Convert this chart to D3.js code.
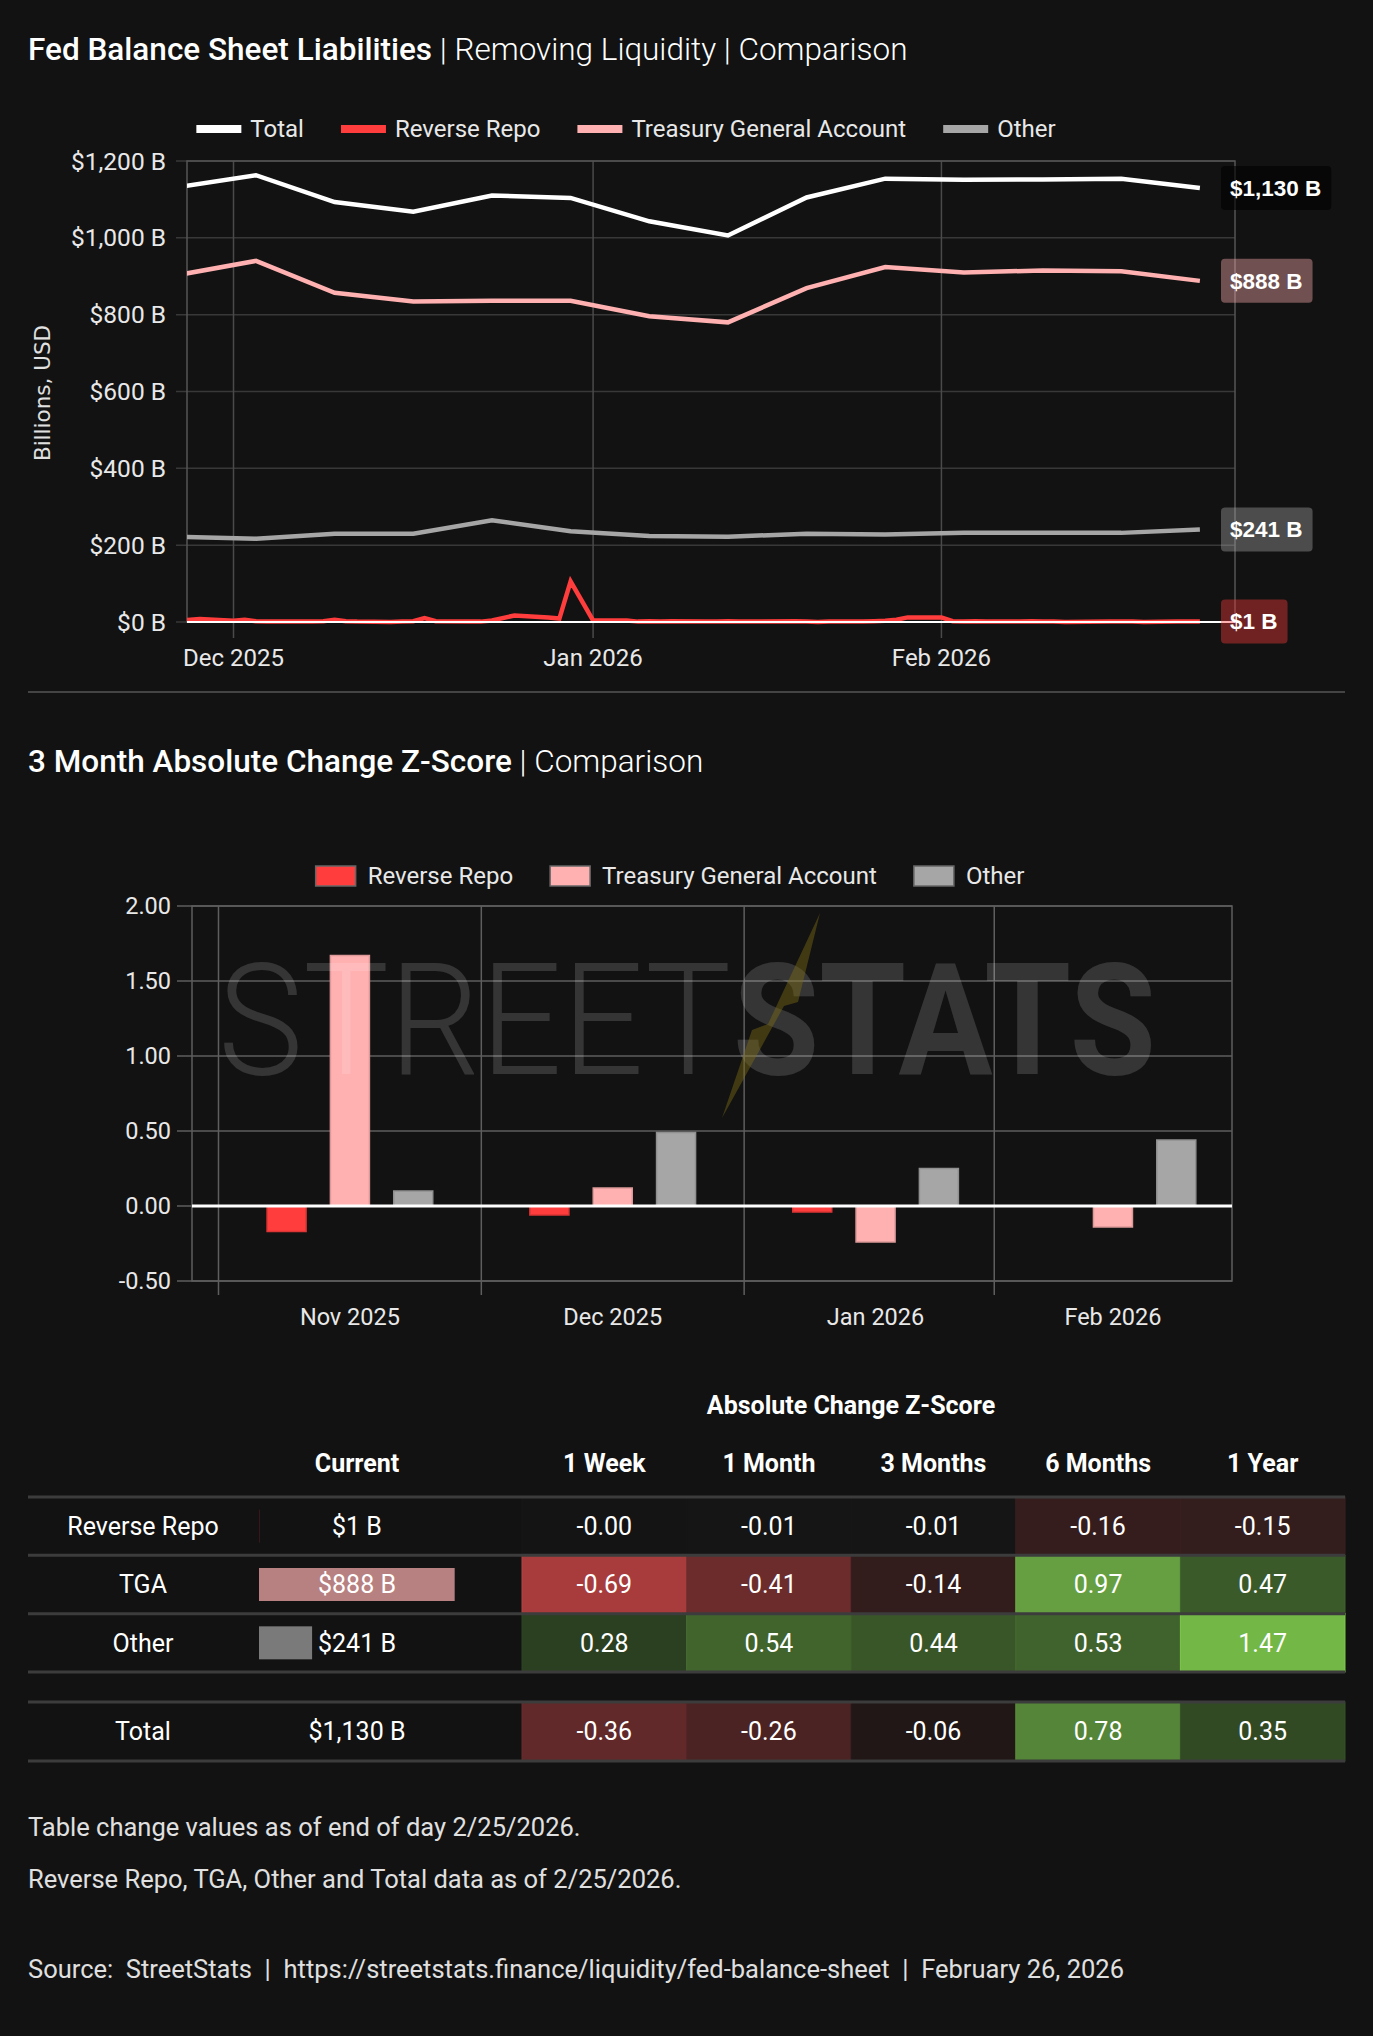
<!DOCTYPE html>
<html>
<head>
<meta charset="utf-8">
<title>Fed Balance Sheet Liabilities</title>
<script src="https://cdn.jsdelivr.net/npm/d3@7"></script>
<style>
  body { margin: 0; background: #121212; }
  svg text { font-family: Roboto, "Noto Sans", sans-serif; }
</style>
</head>
<body>
<div id="chart"></div>
<script>
// Weekly balance sheet points (billions)
const weekDates = ["2025-11-26","2025-12-03","2025-12-10","2025-12-17","2025-12-24","2025-12-31","2026-01-07",
                   "2026-01-14","2026-01-21","2026-01-28","2026-02-04","2026-02-11","2026-02-18","2026-02-25"];
const totalValues = [1132, 1163, 1093, 1068, 1110, 1104, 1043, 1006, 1105, 1154, 1151, 1152, 1154, 1130];
const tgaValues   = [903, 940, 857, 834, 836, 836, 796, 780, 869, 924, 910, 915, 913, 888];
const otherValues = [222, 217, 230, 230, 265, 236, 224, 222, 230, 228, 232, 232, 232, 241];

// Daily reverse repo (billions)
const rrpDates = ["2025-11-26","2025-11-28","2025-12-01","2025-12-02","2025-12-03","2025-12-04","2025-12-05",
                  "2025-12-08","2025-12-09","2025-12-10","2025-12-11","2025-12-12","2025-12-15","2025-12-16",
                  "2025-12-17","2025-12-18","2025-12-19","2025-12-22","2025-12-23","2025-12-24","2025-12-26",
                  "2025-12-29","2025-12-30","2025-12-31","2026-01-02","2026-01-05","2026-01-06","2026-01-07",
                  "2026-01-08","2026-01-09","2026-01-12","2026-01-13","2026-01-14","2026-01-15","2026-01-16",
                  "2026-01-20","2026-01-21","2026-01-22","2026-01-23","2026-01-26","2026-01-27","2026-01-28",
                  "2026-01-29","2026-01-30","2026-02-02","2026-02-03","2026-02-04","2026-02-05","2026-02-06",
                  "2026-02-09","2026-02-10","2026-02-11","2026-02-12","2026-02-13","2026-02-17","2026-02-18",
                  "2026-02-19","2026-02-20","2026-02-23","2026-02-24","2026-02-25"];
const rrpValues = [3, 8, 3, 6, 2, 1, 1,
                   1, 2, 6, 2, 1, 0, 1,
                   2, 10, 2, 1, 1, 4, 17,
                   12, 9, 106, 4, 4, 1, 2,
                   1, 2, 1, 1, 2, 1, 1,
                   2, 1, 0, 1, 1, 2, 3,
                   6, 12, 12, 2, 1, 2, 1,
                   1, 2, 1, 1, 0, 1, 1,
                   1, 0, 1, 1, 1];

const monthTicks = ["2025-12-01","2026-01-02","2026-02-02"];
const yTicks = [0, 200, 400, 600, 800, 1000, 1200];

const seriesNames  = ["Total", "Reverse Repo", "Treasury General Account", "Other"];
const seriesColors = ["#ffffff", "#ff3d3d", "#ffb0b0", "#a6a6a6"];

// 3 month absolute change z-score
const zMonths = ["2025-11-30","2025-12-31","2026-01-31","2026-02-28"];
const zRRP   = [-0.17, -0.06, -0.04, 0.00];
const zTGA   = [1.67, 0.12, -0.24, -0.14];
const zOther = [0.10, 0.49, 0.25, 0.44];
const zTicks = [-0.5, 0, 0.5, 1, 1.5, 2];

// Table
const tableRows = ["Reverse Repo", "TGA", "Other"];
const currentValues = [1, 888, 241];
const periods = ["1 Week", "1 Month", "3 Months", "6 Months", "1 Year"];
const zScoreRows = [
  [-0.004, -0.01, -0.01, -0.16, -0.15],
  [-0.69, -0.41, -0.14, 0.97, 0.47],
  [0.28, 0.54, 0.44, 0.53, 1.47]
];
const totalCurrent = 1130;
const totalZScores = [-0.36, -0.26, -0.06, 0.78, 0.35];

const footNotes = ["Table change values as of end of day 2/25/2026.",
                   "Reverse Repo, TGA, Other and Total data as of 2/25/2026."];
const sourceLine = "Source:  StreetStats  |  https://streetstats.finance/liquidity/fed-balance-sheet  |  February 26, 2026";

// ---------------------------------------------------------------
const W = 1373, H = 2036;
const parseDay = d3.utcParse("%Y-%m-%d");
const parseTime = d3.utcParse("%Y-%m-%dT%H:%M");
const fmtB = v => "$" + d3.format(",")(v) + " B";

const svg = d3.select("#chart").append("svg")
    .attr("width", W)
    .attr("height", H);

svg.append("rect").attr("width", W).attr("height", H).attr("fill", "#121212");

function title(y, bold, light) {
    const t = svg.append("text").attr("x", 28).attr("y", y)
        .attr("fill", "#ffffff").style("font-size", "31.5px");
    t.append("tspan").style("font-weight", 500).text(bold);
    t.append("tspan").style("font-weight", 300).text(" " + light);
}

function legend(cx, cy, sw, sh, gap, bordered) {
    const g = svg.append("g");
    let pos = 0;
    seriesNames.forEach((n, i) => {
        if (bordered && i === 0) return;
        const item = g.append("g").attr("transform", "translate(" + pos + ",0)");
        item.append("rect")
            .attr("x", 0).attr("y", cy - sh / 2)
            .attr("width", sw).attr("height", sh)
            .attr("fill", seriesColors[i])
            .attr("stroke", bordered ? "#666" : "none")
            .attr("stroke-width", 1.5);
        const t = item.append("text")
            .attr("x", sw + gap).attr("y", cy).attr("dy", "0.35em")
            .attr("fill", "#e8e8e8").style("font-size", "24px")
            .text(n);
        pos += sw + gap + t.node().getComputedTextLength() + 37;
    });
    g.attr("transform", "translate(" + (cx - (pos - 37) / 2) + ",0)");
}

// ================= Chart 1: liabilities lines =================
title(60, "Fed Balance Sheet Liabilities", "| Removing Liquidity | Comparison");
legend(626, 129, 45, 8, 9, false);

const px0 = 187, px1 = 1235, py0 = 161, py1 = 622;

const x = d3.scaleUtc()
    .domain([parseTime("2025-11-26T20:40"), parseTime("2026-02-28T03:00")])
    .range([px0, px1]);
const y = d3.scaleLinear().domain([0, 1200]).range([py1, py0]);

svg.append("defs").append("clipPath").attr("id", "clip1")
    .append("rect").attr("x", px0).attr("y", py0 - 10).attr("width", px1 - px0).attr("height", py1 - py0 + 20);

// horizontal grid + y labels
svg.append("g").selectAll("line").data(yTicks).join("line")
    .attr("x1", px0 - 11).attr("x2", px1)
    .attr("y1", d => y(d)).attr("y2", d => y(d))
    .attr("stroke", "#383838").attr("stroke-width", 1.5);
svg.append("g").selectAll("text").data(yTicks).join("text")
    .attr("x", 166).attr("y", d => y(d)).attr("dy", "0.35em")
    .attr("text-anchor", "end").attr("fill", "#e8e8e8").style("font-size", "24.5px")
    .text(fmtB);

// vertical grid + x labels
const tickDates = monthTicks.map(parseDay);
svg.append("g").selectAll("line").data(tickDates).join("line")
    .attr("x1", d => x(d)).attr("x2", d => x(d))
    .attr("y1", py0).attr("y2", py1 + 16)
    .attr("stroke", "#4a4a4a").attr("stroke-width", 1.5);
svg.append("g").selectAll("text").data(tickDates).join("text")
    .attr("x", d => x(d)).attr("y", 666)
    .attr("text-anchor", "middle").attr("fill", "#e8e8e8").style("font-size", "24px")
    .text(d3.utcFormat("%b %Y"));

svg.append("rect").attr("x", px0).attr("y", py0).attr("width", px1 - px0).attr("height", py1 - py0)
    .attr("fill", "none").attr("stroke", "#555").attr("stroke-width", 1.5);

svg.append("text")
    .attr("transform", "translate(42,393) rotate(-90)")
    .attr("text-anchor", "middle").attr("dy", "0.35em")
    .attr("fill", "#e0e0e0").style("font-size", "21.5px").style("font-family", "DejaVu Sans")
    .text("Billions, USD");

const weekly = weekDates.map((d, i) => ({ date: parseDay(d), total: totalValues[i], tga: tgaValues[i], other: otherValues[i] }));
const daily = rrpDates.map((d, i) => ({ date: parseDay(d), value: rrpValues[i] }));

const lines = svg.append("g").attr("clip-path", "url(#clip1)");
const lineOf = key => d3.line().x(d => x(d.date)).y(d => y(d[key]));

lines.append("path").datum(weekly).attr("d", lineOf("other"))
    .attr("fill", "none").attr("stroke", seriesColors[3]).attr("stroke-width", 4.5);
lines.append("path").datum(weekly).attr("d", lineOf("tga"))
    .attr("fill", "none").attr("stroke", seriesColors[2]).attr("stroke-width", 4.5);
lines.append("path").datum(weekly).attr("d", lineOf("total"))
    .attr("fill", "none").attr("stroke", seriesColors[0]).attr("stroke-width", 4.5);
lines.append("path").datum(daily).attr("d", lineOf("value"))
    .attr("fill", "none").attr("stroke", seriesColors[1]).attr("stroke-width", 4.5)
    .attr("stroke-linejoin", "miter");

// zero line
svg.append("line").attr("x1", px0).attr("x2", px1).attr("y1", y(0)).attr("y2", y(0))
    .attr("stroke", "#ffffff").attr("stroke-width", 2);

// end-value labels
const endLabels = [
    { v: totalValues[totalValues.length - 1], fill: "#000000", op: 0.6 },
    { v: tgaValues[tgaValues.length - 1], fill: seriesColors[2], op: 0.4 },
    { v: otherValues[otherValues.length - 1], fill: seriesColors[3], op: 0.4 },
    { v: rrpValues[rrpValues.length - 1], fill: seriesColors[1], op: 0.4 }
];
endLabels.forEach(l => {
    const g = svg.append("g").attr("transform", "translate(1221," + y(l.v) + ")");
    const r = g.append("rect").attr("y", -22).attr("height", 44).attr("rx", 4)
        .attr("fill", l.fill).attr("fill-opacity", l.op);
    const t = g.append("text").attr("x", 9).attr("dy", "0.35em")
        .attr("fill", "#ffffff").style("font-size", "22.5px").style("font-weight", 700)
        .style("font-family", "'Liberation Sans', Arial, sans-serif")
        .text(fmtB(l.v));
    r.attr("width", t.node().getComputedTextLength() + 19);
});

svg.append("line").attr("x1", 28).attr("x2", 1345).attr("y1", 692).attr("y2", 692)
    .attr("stroke", "#444").attr("stroke-width", 2);

// ================= Chart 2: z-score bars =================
title(772, "3 Month Absolute Change Z-Score", "| Comparison");
legend(670, 876, 40, 20, 12, true);

const bx0 = 192, bx1 = 1232, by0 = 906, by1 = 1281;
const xz = d3.scaleUtc()
    .domain([parseTime("2025-11-11T09:00"), parseTime("2026-03-14T01:00")])
    .range([bx0, bx1]);
const sub = d3.scaleBand().domain(["rrp", "tga", "other"]).range([-95, 95])
    .paddingInner(0.384).paddingOuter(0.192);
const yz = d3.scaleLinear().domain([-0.5, 2]).range([by1, by0]);

const monthDates = zMonths.map(parseDay);
const mx = monthDates.map(d => xz(d));
const gridX = mx.map((v, i) => i === 0 ? v - (mx[1] - mx[0]) / 2 : (mx[i - 1] + v) / 2);

svg.append("g").selectAll("line").data(zTicks).join("line")
    .attr("x1", bx0 - 15).attr("x2", bx1)
    .attr("y1", d => yz(d)).attr("y2", d => yz(d))
    .attr("stroke", "#5e5e5e").attr("stroke-width", 1.5);
svg.append("g").selectAll("line").data(gridX).join("line")
    .attr("x1", d => d).attr("x2", d => d)
    .attr("y1", by0).attr("y2", by1 + 14)
    .attr("stroke", "#5e5e5e").attr("stroke-width", 1.5);
svg.append("rect").attr("x", bx0).attr("y", by0).attr("width", bx1 - bx0).attr("height", by1 - by0)
    .attr("fill", "none").attr("stroke", "#5e5e5e").attr("stroke-width", 1.5);

svg.append("g").selectAll("text").data(zTicks).join("text")
    .attr("x", 171).attr("y", d => yz(d)).attr("dy", "0.35em")
    .attr("text-anchor", "end").attr("fill", "#e8e8e8").style("font-size", "23.5px")
    .text(d => d.toFixed(2));
svg.append("g").selectAll("text").data(monthDates).join("text")
    .attr("x", d => xz(d)).attr("y", 1325)
    .attr("text-anchor", "middle").attr("fill", "#e8e8e8").style("font-size", "23.5px")
    .text(d3.utcFormat("%b %Y"));

const barData = [];
monthDates.forEach((d, i) => {
    barData.push({ date: d, key: "rrp", v: zRRP[i], c: seriesColors[1] });
    barData.push({ date: d, key: "tga", v: zTGA[i], c: seriesColors[2] });
    barData.push({ date: d, key: "other", v: zOther[i], c: seriesColors[3] });
});
svg.append("g").selectAll("rect").data(barData.filter(d => d.v !== 0)).join("rect")
    .attr("x", d => xz(d.date) + sub(d.key))
    .attr("width", sub.bandwidth())
    .attr("y", d => yz(Math.max(0, d.v)))
    .attr("height", d => Math.abs(yz(d.v) - yz(0)))
    .attr("fill", d => d.c)
    .attr("stroke", d => d3.color(d.c).darker(0.4))
    .attr("stroke-width", 1.5);

// watermark
const wm = svg.append("g").attr("pointer-events", "none");
wm.append("text").attr("x", 218).attr("y", 1074)
    .attr("textLength", 513).attr("lengthAdjust", "spacingAndGlyphs")
    .style("font-size", "156px").style("font-weight", 300)
    .attr("fill", "#ffffff").attr("fill-opacity", 0.15).text("STREET");
wm.append("text").attr("x", 733).attr("y", 1074)
    .attr("textLength", 423).attr("lengthAdjust", "spacingAndGlyphs")
    .style("font-size", "156px").style("font-weight", 700)
    .attr("fill", "#ffffff").attr("fill-opacity", 0.15).text("STATS");
wm.append("path")
    .attr("d", "M820,913 L798,1002 L784,1006 L722,1118 L752,1030 L768,1024 Z")
    .attr("fill", "#7a6a14").attr("fill-opacity", 0.45);

svg.append("line").attr("x1", bx0).attr("x2", bx1).attr("y1", yz(0)).attr("y2", yz(0))
    .attr("stroke", "#ffffff").attr("stroke-width", 3);

// ================= Table =================
const tx0 = 28, tx1 = 1345, curX0 = 259, curCenter = 357;
const colX = d3.scaleBand().domain(periods).range([522, 1345]);
const rowY = d3.scaleBand().domain(tableRows).range([1497, 1672]);
const totalY0 = 1702, totalY1 = 1761;
const curScale = d3.scaleLinear().domain([0, totalCurrent]).range([0, 249]);
const cellColor = d3.scaleLinear()
    .domain([-0.8, 0, 0.3, 1.0, 1.5])
    .range(["#c04242", "#141414", "#2d4322", "#68a342", "#74b846"])
    .clamp(true);

const table = svg.append("g");
const cellText = (txt, cx, cy, weight) => table.append("text")
    .attr("x", cx).attr("y", cy).attr("dy", "0.35em").attr("text-anchor", "middle")
    .attr("fill", "#ffffff").style("font-size", "25px").style("font-weight", weight || 400)
    .text(txt);

cellText("Absolute Change Z-Score", 851, 1405, 700);
cellText("Current", curCenter, 1463, 700);
periods.forEach(p => cellText(p, colX(p) + colX.bandwidth() / 2, 1463, 700));

function drawRow(label, cur, zs, y0, h, color) {
    const cy = y0 + h / 2;
    zs.forEach((z, j) => {
        const fill = cellColor(z);
        table.append("rect")
            .attr("x", colX(periods[j])).attr("y", y0)
            .attr("width", colX.bandwidth()).attr("height", h)
            .attr("fill", fill)
            .attr("stroke", d3.color(fill).brighter(0.25)).attr("stroke-width", 1);
        cellText(z.toFixed(2), colX(periods[j]) + colX.bandwidth() / 2, cy);
    });
    if (color) {
        table.append("rect")
            .attr("x", curX0).attr("y", cy - 16.5)
            .attr("width", curScale(cur)).attr("height", 33)
            .attr("fill", color).attr("fill-opacity", 0.7);
    }
    cellText(label, 143, cy);
    cellText(fmtB(cur), curCenter, cy);
}

tableRows.forEach((r, i) => drawRow(r, currentValues[i], zScoreRows[i], rowY(r), rowY.bandwidth(), seriesColors[i + 1]));
drawRow("Total", totalCurrent, totalZScores, totalY0, totalY1 - totalY0, null);

const hLines = [1497, rowY("TGA"), rowY("Other"), 1672, totalY0, totalY1];
table.selectAll("line.sep").data(hLines).join("line")
    .attr("class", "sep")
    .attr("x1", tx0).attr("x2", tx1)
    .attr("y1", d => d).attr("y2", d => d)
    .attr("stroke", "#3c3c3c").attr("stroke-width", 3);

// ================= Footer =================
footNotes.forEach((n, i) => {
    svg.append("text").attr("x", 28).attr("y", 1836 + i * 52)
        .attr("fill", "#e0e0e0").style("font-size", "25.5px").text(n);
});
svg.append("text").attr("x", 28).attr("y", 1978)
    .attr("fill", "#e0e0e0").style("font-size", "25.5px")
    .style("white-space", "pre").attr("xml:space", "preserve")
    .text(sourceLine);
</script>
</body>
</html>
